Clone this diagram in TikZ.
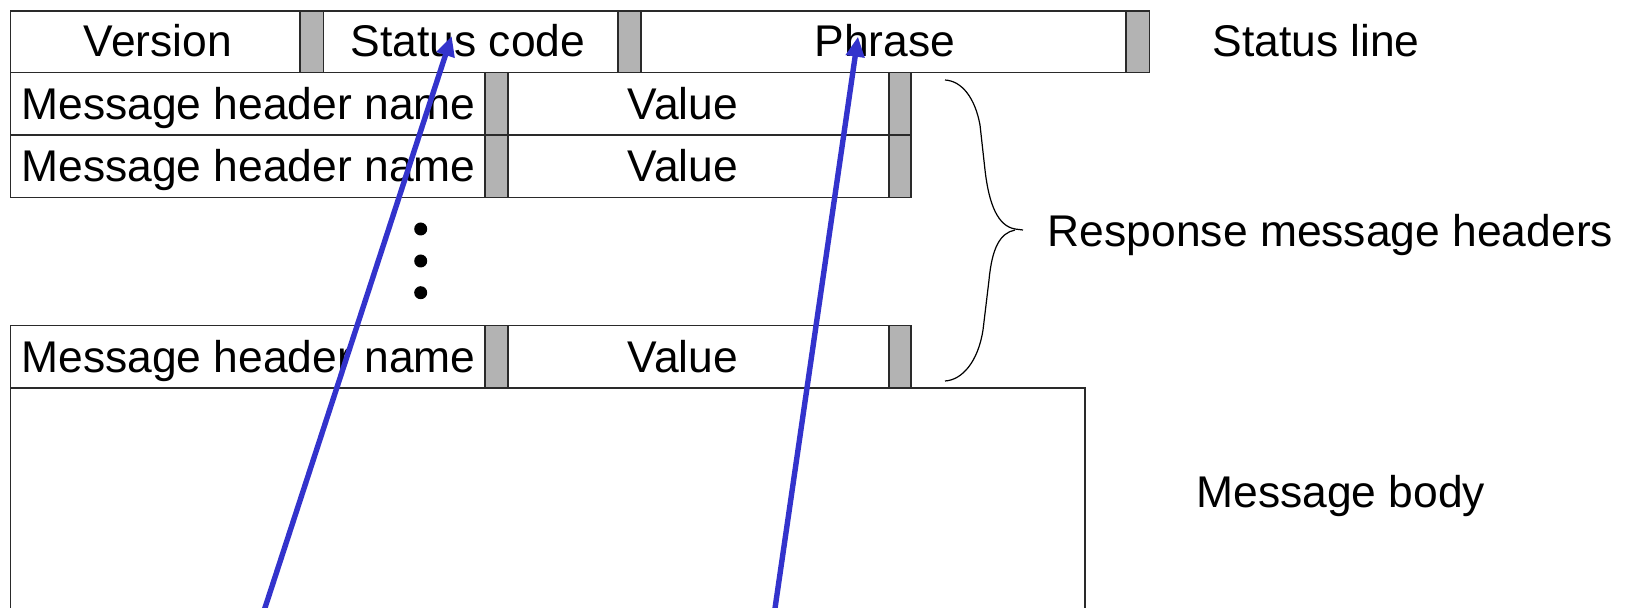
\documentclass[tikz,border=0pt]{standalone}
\usepackage{fontspec}
\setmainfont{Liberation Sans}
\usetikzlibrary{arrows.meta}
\definecolor{arrowblue}{HTML}{3333CC}
\definecolor{bargray}{HTML}{B3B3B3}
\definecolor{edgegray}{HTML}{2A2A2A}
\begin{document}
\begin{tikzpicture}[x=0.5pt,y=-0.5pt,
  cell/.style={draw=edgegray, line width=0.8pt, fill=white},
  bar/.style={draw=edgegray, line width=0.8pt, fill=bargray},
  lbl/.style={font=\fontsize{22.2}{26}\selectfont, inner sep=0pt, anchor=base},
  pointer/.style={draw=arrowblue, line width=2.7pt, -{Triangle[length=10pt,width=9pt]}},
  brace/.style={draw=black, line width=0.6pt}]
\useasboundingbox (0,0) rectangle (1631,608);
\clip (0,0) rectangle (1631,608);

% status line: three fields, each closed by a grey separator
\draw[cell] (10.5,11) rectangle (300,72.5);
\draw[bar] (300,11) rectangle (323.5,72.5);
\draw[cell] (323.5,11) rectangle (618,72.5);
\draw[bar] (618,11) rectangle (641,72.5);
\draw[cell] (641,11) rectangle (1126,72.5);
\draw[bar] (1126,11) rectangle (1149.5,72.5);
\node[lbl] (ver) at (158,57) {Version};
\node[lbl] (sc) at (468,57) {Status code};
\node[lbl] (ph) at (885,57) {Phrase};

% header lines: name, separator, value, separator
\foreach \ya/\yb/\n in {72.5/135/1, 135/197.5/2, 325.5/388/3} {
  \draw[cell] (10.5,\ya) rectangle (485,\yb);
  \draw[bar] (485,\ya) rectangle (508,\yb);
  \draw[cell] (508,\ya) rectangle (889,\yb);
  \draw[bar] (889,\ya) rectangle (911,\yb);
  \node[lbl, anchor=base west] (hn\n) at (21,\yb-15.5) {Message header name};
  \node[lbl] (hv\n) at (683,\yb-15.5) {Value};
}

% ellipsis between header lines
\fill (420.7,229) circle (6.5);
\fill (420.7,261) circle (6.5);
\fill (420.7,292.7) circle (6.5);

% message body (open towards the bottom)
\draw[draw=edgegray, line width=0.8pt] (10.5,620) -- (10.5,388) -- (1085,388) -- (1085,620);

% curly brace grouping the header lines
\draw[brace] (945,80) .. controls (962,81) and (975,98) .. (980,125)
  -- (985,170)
  .. controls (989,205) and (998,226) .. (1015,229) -- (1023,230);
\draw[brace] (1015,230) .. controls (1000,233) and (992,248) .. (989,280)
  -- (983,330)
  .. controls (978,362) and (962,380) .. (945,381);

% side labels
\node[lbl, anchor=base west] (sl) at (1212,57) {Status line};
\node[lbl, anchor=base west] (rmh) at (1047.5,247) {Response message headers};
\node[lbl, anchor=base west] (mb) at (1196,508) {Message body};

% pointers into the status line fields
\coordinate (t1) at (261,620);
\coordinate (h1) at (451.7,36);
\coordinate (t2) at (773.3,620);
\coordinate (h2) at (858,36.7);
\draw[pointer] (t1) -- (h1);
\draw[pointer] (t2) -- (h2);
\end{tikzpicture}
\end{document}
